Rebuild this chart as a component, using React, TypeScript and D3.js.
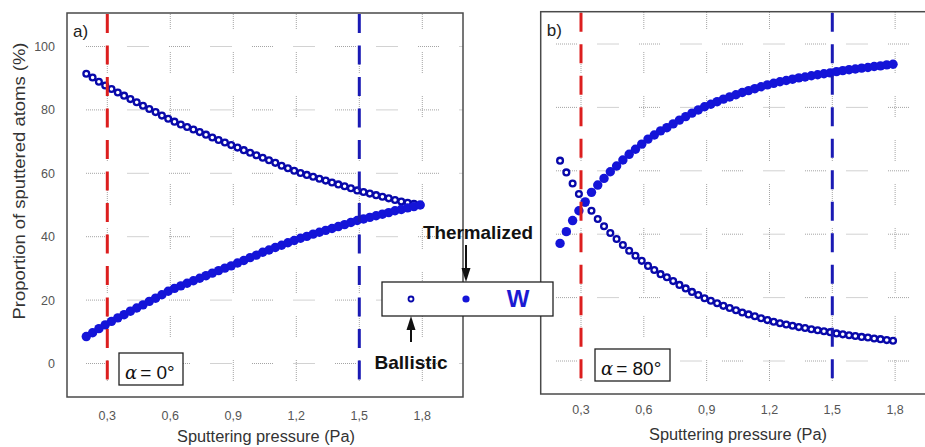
import React from "react";
import * as d3 from "d3";

// ---------- data ----------
const pressure = [
  0.2, 0.23, 0.26, 0.29, 0.32, 0.35, 0.38, 0.41, 0.44, 0.47, 0.5, 0.53, 0.56, 0.59,
  0.62, 0.65, 0.68, 0.71, 0.74, 0.77, 0.8, 0.83, 0.86, 0.89, 0.92, 0.95, 0.98, 1.01,
  1.04, 1.07, 1.1, 1.13, 1.16, 1.19, 1.22, 1.25, 1.28, 1.31, 1.34, 1.37, 1.4, 1.43,
  1.46, 1.49, 1.52, 1.55, 1.58, 1.61, 1.64, 1.67, 1.7, 1.73, 1.76, 1.79,
];

// panel a) alpha = 0°
const ballisticA = [
  91.4, 90.2, 88.9, 87.7, 86.6, 85.5, 84.5, 83.4, 82.4, 81.3, 80.3, 79.3, 78.2, 77.2,
  76.3, 75.4, 74.6, 73.8, 73.0, 72.2, 71.3, 70.5, 69.7, 68.9, 68.1, 67.3, 66.5, 65.7,
  64.9, 64.1, 63.3, 62.4, 61.6, 60.8, 60.1, 59.5, 58.9, 58.3, 57.7, 57.1, 56.5, 55.9,
  55.3, 54.6, 54.1, 53.6, 53.1, 52.6, 52.1, 51.6, 51.1, 50.7, 50.4, 50.0,
];
const thermalizedA = [
  8.5, 9.7, 11.0, 12.2, 13.3, 14.4, 15.4, 16.5, 17.5, 18.5, 19.6, 20.6, 21.7, 22.8,
  23.7, 24.5, 25.3, 26.1, 26.9, 27.7, 28.5, 29.3, 30.1, 30.8, 31.7, 32.5, 33.4, 34.2,
  35.1, 35.8, 36.6, 37.3, 38.1, 38.8, 39.5, 40.1, 40.8, 41.4, 42.0, 42.6, 43.2, 43.8,
  44.5, 45.1, 45.6, 46.1, 46.6, 47.1, 47.6, 48.2, 48.6, 49.1, 49.5, 50.0,
];

// panel b) alpha = 80°
const ballisticB = [
  63.2, 59.5, 56.0, 52.7, 49.9, 47.4, 44.8, 42.5, 40.4, 38.5, 36.6, 34.8, 33.2, 31.6,
  30.0, 28.7, 27.4, 26.4, 25.2, 24.0, 22.9, 21.8, 20.8, 19.8, 19.0, 18.2, 17.4, 16.7,
  16.0, 15.3, 14.7, 14.1, 13.5, 12.9, 12.4, 11.9, 11.5, 11.1, 10.7, 10.4, 10.0, 9.7,
  9.4, 9.1, 8.7, 8.4, 8.1, 7.9, 7.6, 7.4, 7.1, 6.9, 6.6, 6.4,
];
const thermalizedB = [
  37.1, 40.8, 44.3, 47.4, 50.2, 53.2, 55.5, 57.6, 59.7, 61.5, 63.4, 65.2, 66.8, 68.4,
  70.0, 71.3, 72.6, 73.6, 74.8, 76.0, 77.1, 78.2, 79.2, 80.2, 81.0, 81.8, 82.6, 83.3,
  84.0, 84.7, 85.3, 85.9, 86.5, 87.1, 87.6, 88.1, 88.5, 88.9, 89.3, 89.6, 90.0, 90.3,
  90.6, 90.9, 91.3, 91.6, 91.9, 92.1, 92.4, 92.6, 92.9, 93.1, 93.4, 93.6,
];

const xTicks = [0.3, 0.6, 0.9, 1.2, 1.5, 1.8];
const yTicks = [0, 20, 40, 60, 80, 100];
const redLineAt = 0.3;
const blueLineAt = 1.5;

const FONT = "'Liberation Sans', Arial, sans-serif";
const OPEN_COLOR = "#0808aa";
const FILL_COLOR = "#1414d8";

const fmt = (v: number) => d3.format(".1f")(v).replace(".", ",");

// dotted segment dash pattern
const dotted = (on: number, off: number) =>
  Array(Math.round(on / 2)).fill("1,1").join(",") + ",0," + off;

type PanelProps = {
  label: string;
  angle: string;
  frame: { x0: number; x1: number; y0: number; y1: number };
  xr: [number, number];
  yr: [number, number];
  ballistic: number[];
  thermalized: number[];
  hStart: number;
  tickY: number;
  titleY: number;
  titleX: number;
  showY: boolean;
  dashEnd: number;
  box: { x: number; y: number; w: number; h: number };
  clipId: string;
};

function Panel(p: PanelProps) {
  const x = d3.scaleLinear().domain([0.3, 1.5]).range(p.xr);
  const y = d3.scaleLinear().domain([0, 100]).range(p.yr);
  const { x0, x1, y0, y1 } = p.frame;
  const hDash = dotted(22, 19.5);
  const vDash = dotted(22, 22);
  return (
    <g>
      <defs>
        <clipPath id={p.clipId}>
          <rect x={x0} y={y0} width={x1 - x0} height={y1 - y0} />
        </clipPath>
      </defs>
      <g clipPath={`url(#${p.clipId})`}>
        {yTicks.map((t) => (
          <line key={"h" + t} x1={p.hStart} x2={x1} y1={y(t)} y2={y(t)}
            stroke="#a4a4a4" strokeWidth={1} strokeDasharray={hDash} />
        ))}
        {xTicks.map((t) => (
          <line key={"v" + t} x1={x(t)} x2={x(t)} y1={8} y2={y1}
            stroke="#a4a4a4" strokeWidth={1} strokeDasharray={vDash} />
        ))}
        {pressure.map((pv, i) => (
          <circle key={"b" + i} cx={x(pv)} cy={y(p.ballistic[i])} r={2.9}
            fill="#fff" stroke={OPEN_COLOR} strokeWidth={2.3} />
        ))}
        {pressure.map((pv, i) => (
          <circle key={"t" + i} cx={x(pv)} cy={y(p.thermalized[i])} r={4.7}
            fill={FILL_COLOR} />
        ))}
        <line x1={x(redLineAt)} x2={x(redLineAt)} y1={y0 + 1} y2={p.dashEnd}
          stroke="#dc1e1e" strokeWidth={3} strokeDasharray="19,12.5" />
        <line x1={x(blueLineAt)} x2={x(blueLineAt)} y1={y0 + 1} y2={p.dashEnd}
          stroke="#1a1ab4" strokeWidth={3} strokeDasharray="19,12.5" />
      </g>
      <rect x={x0} y={y0} width={x1 - x0} height={y1 - y0} fill="none"
        stroke="#4a4a4a" strokeWidth={1.5} />
      <text x={x0 + 6} y={y0 + 24} fontFamily={FONT} fontSize={17} fill="#222">{p.label}</text>
      {/* alpha box */}
      <rect x={p.box.x} y={p.box.y} width={p.box.w} height={p.box.h} fill="#fff"
        stroke="#222" strokeWidth={1.3} />
      <text x={p.box.x + 6} y={p.box.y + 25.5} fontSize={19} fill="#111">
        <tspan fontFamily="'DejaVu Serif', 'Liberation Serif', serif" fontStyle="italic" fontSize={18}>α</tspan>
        <tspan fontFamily={FONT} dx={3}>= {p.angle}°</tspan>
      </text>
      {xTicks.map((t) => (
        <text key={"xt" + t} x={x(t)} y={p.tickY} textAnchor="middle"
          fontFamily={FONT} fontSize={12.5} fill="#555">{fmt(t)}</text>
      ))}
      {p.showY && yTicks.map((t) => (
        <text key={"yt" + t} x={55} y={y(t) + 4.5} textAnchor="end"
          fontFamily={FONT} fontSize={12.5} fill="#555">{t}</text>
      ))}
      <text x={p.titleX} y={p.titleY} textAnchor="middle" fontFamily={FONT}
        fontSize={16} fill="#333" textLength={178} lengthAdjust="spacingAndGlyphs">
        Sputtering pressure (Pa)
      </text>
    </g>
  );
}

export default function App() {
  return (
    <svg width={925} height={447} style={{ position: "absolute", left: 0, top: 0, background: "#fff" }}>
      <rect x={0} y={0} width={925} height={447} fill="#fff" />
      <Panel
        label="a)" angle="0" clipId="clipA"
        frame={{ x0: 67, x1: 463, y0: 13, y1: 397 }}
        xr={[107.3, 359.3]} yr={[363.5, 46.5]}
        ballistic={ballisticA} thermalized={thermalizedA}
        hStart={86} tickY={419.5} titleY={442} titleX={266} showY={true}
        dashEnd={382}
        box={{ x: 119, y: 353, w: 64, h: 32 }}
      />
      <Panel
        label="b)" angle="80" clipId="clipB"
        frame={{ x0: 540.7, x1: 960, y0: 11.7, y1: 394 }}
        xr={[581, 832.3]} yr={[361, 44]}
        ballistic={ballisticB} thermalized={thermalizedB}
        hStart={556} tickY={413.5} titleY={440} titleX={738} showY={false}
        dashEnd={380}
        box={{ x: 595, y: 349, w: 75, h: 32 }}
      />
      {/* y axis title */}
      <text transform="translate(25,181) rotate(-90)" textAnchor="middle" fontFamily={FONT}
        fontSize={16} fill="#333" textLength={277} lengthAdjust="spacingAndGlyphs">
        Proportion of sputtered atoms (%)
      </text>
      {/* legend */}
      <rect x={382} y={282} width={171} height={34} fill="#fff" stroke="#222" strokeWidth={1.3} />
      <circle cx={411} cy={299} r={2.5} fill="#fff" stroke={OPEN_COLOR} strokeWidth={1.8} />
      <circle cx={466} cy={299} r={3.6} fill={FILL_COLOR} />
      <text x={518} y={307} textAnchor="middle" fontFamily={FONT} fontWeight="bold"
        fontSize={24} fill="#1a1ad2">W</text>
      <text x={478} y={238.5} textAnchor="middle" fontFamily={FONT} fontWeight="bold"
        fontSize={18.5} fill="#111" textLength={110} lengthAdjust="spacingAndGlyphs">Thermalized</text>
      <line x1={466} x2={466} y1={245} y2={272} stroke="#111" strokeWidth={2} />
      <path d="M461.5,268 L470.5,268 L466,282 Z" fill="#111" />
      <text x={411} y={368.5} textAnchor="middle" fontFamily={FONT} fontWeight="bold"
        fontSize={18.5} fill="#111" textLength={73} lengthAdjust="spacingAndGlyphs">Ballistic</text>
      <line x1={411} x2={411} y1={342} y2={326} stroke="#111" strokeWidth={2} />
      <path d="M406.5,330 L415.5,330 L411,316 Z" fill="#111" />
    </svg>
  );
}
